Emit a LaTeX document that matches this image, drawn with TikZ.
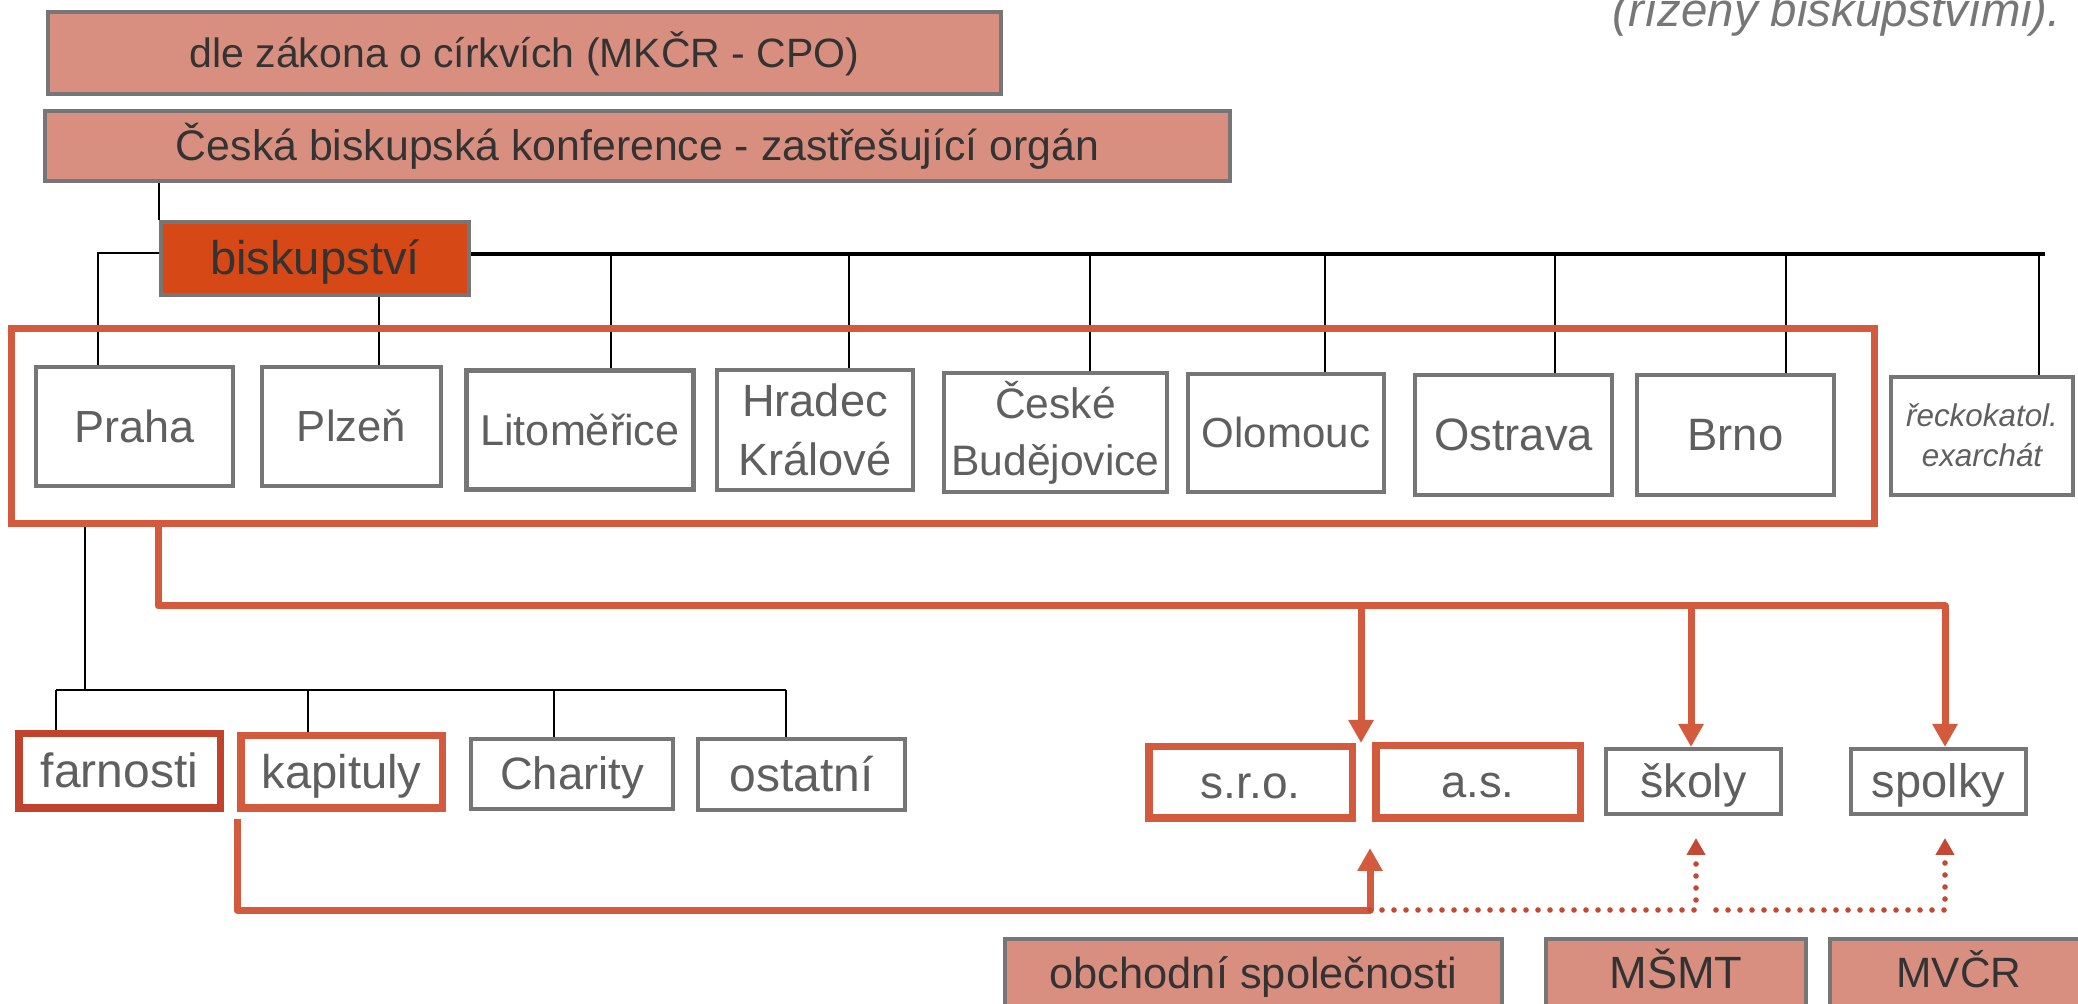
\documentclass[tikz,border=0pt]{standalone}
\usepackage{fontspec}
\setmainfont{Liberation Sans}
\usetikzlibrary{arrows.meta,backgrounds}
\definecolor{salmon}{HTML}{D98F7F}
\definecolor{biskc}{HTML}{D64815}
\definecolor{boxgray}{HTML}{767676}
\definecolor{redc}{HTML}{D35A3C}
\definecolor{farnc}{HTML}{C1432B}
\definecolor{dotc}{HTML}{C24A34}
\definecolor{txtgray}{HTML}{5F5F5F}
\definecolor{txtdark}{HTML}{333333}
\definecolor{notegray}{HTML}{777777}
\newcommand\st{\rule[-0.2em]{0pt}{1.1em}}
\newcommand\fsz[2]{\fontsize{#1pt}{#2pt}\selectfont}
\tikzset{
 gbox/.style={draw=boxgray, line width=2pt, fill=white, text=txtgray, inner sep=0pt, align=center},
 rbox/.style={draw=redc, line width=3.75pt, fill=white, text=txtgray, inner sep=0pt, align=center},
 sbox/.style={draw=boxgray, line width=2pt, fill=salmon, text=txtdark, inner sep=0pt, align=center},
 sz/.style 2 args={minimum width=#1pt, minimum height=#2pt},
 blk/.style={draw=black, line width=1pt},
 busln/.style={draw=black, line width=2pt},
 redln/.style={draw=redc, line width=3.5pt, line join=round},
 redarr/.style={redln, -{Triangle[width=12pt,length=11.5pt]}},
 dotarr/.style={draw=dotc, line width=2.8pt, line cap=round, dash pattern=on 0pt off 6pt, -{Triangle[width=9pt,length=8.5pt]}},
}
\begin{document}
\begin{tikzpicture}[x=0.5pt, y=-0.5pt]
\useasboundingbox (0,0) rectangle (2078,1004);

% top note (cut by the page edge, as in the reference)
\node[anchor=base east, text=notegray, font={\itshape\fsz{23.7}{28}}, inner sep=0pt] (note) at (2061,27) {(řízený biskupstvími).};

% salmon boxes
\node[sbox, sz={476.5}{41}, font={\fsz{20.5}{24}}] (top1) at (524.5,53) {\st dle zákona o církvích (MKČR - CPO)};
\node[sbox, sz={592.5}{35}, font={\fsz{21.4}{25}}] (top2) at (637.5,146) {\st Česká biskupská konference - zastřešující orgán};
\node[sbox, fill=biskc, sz={154}{36.5}, font={\fsz{23.6}{28}}] (bisk) at (315,258.5) {\st biskupství};

% dioceses
\node[gbox, sz={98.5}{59.5}, font={\fsz{22.5}{27}}] (praha) at (134.5,426.5) {\st Praha};
\node[gbox, sz={89.5}{59.5}, font={\fsz{21.8}{26}}] (plzen) at (351.5,426.5) {\st Plzeň};
\node[gbox, line width=2.5pt, sz={113.5}{59.5}, font={\fsz{21.6}{26}}] (lito) at (580,430) {\st Litoměřice};
\node[gbox, sz={98}{60}, font={\fsz{22.6}{29.5}}] (hradec) at (815,430) {\st Hradec\\Králové\st};
\node[gbox, sz={111.5}{59.5}, font={\fsz{21.3}{28.5}}] (cb) at (1055.5,432.5) {\st České\\Budějovice\st};
\node[gbox, sz={98}{59}, font={\fsz{21}{25}}] (olom) at (1286,433) {\st Olomouc};
\node[gbox, sz={98.5}{60}, font={\fsz{22.7}{27}}] (ostr) at (1513.5,435) {\st Ostrava};
\node[gbox, sz={98.5}{60}, font={\fsz{22.7}{27}}] (brno) at (1735.5,435) {\st Brno};
\node[gbox, sz={91}{59}, font={\itshape\fsz{15.7}{20}}] (reck) at (1982,436) {\st řeckokatol.\\exarchát\st};

% group frame
\node[draw=redc, line width=3.5pt, inner sep=0pt, sz={931.5}{97.5}] (grp) at (943,426) {};

% lower boxes
\node[rbox, draw=farnc, sz={100.75}{37.25}, font={\fsz{24}{28}}] (farn) at (119.5,771) {\st farnosti};
\node[rbox, sz={100.75}{36.25}, font={\fsz{23.6}{28}}] (kap) at (341.5,772) {\st kapituly};
\node[gbox, sz={101}{35}, font={\fsz{22.7}{27}}] (char) at (572,774) {\st Charity};
\node[gbox, sz={103.5}{35.5}, font={\fsz{24}{28}}] (ostat) at (801.5,774.5) {\st ostatní};
\node[rbox, sz={101.75}{35.75}, font={\fsz{23}{27}}] (sro) at (1250.5,782.5) {\st s.r.o.};
\node[rbox, sz={102.25}{36.25}, font={\fsz{22.7}{27}}] (as) at (1478,782) {\st a.s.};
\node[gbox, sz={87.5}{32.5}, font={\fsz{23.3}{27}}] (skoly) at (1693.5,781.5) {\st školy};
\node[gbox, sz={87.5}{32.5}, font={\fsz{23.5}{27}}] (spolky) at (1938.5,781.5) {\st spolky};
\node[sbox, sz={248.5}{34}, font={\fsz{21.7}{26}}] (obch) at (1253.5,973) {\st obchodní společnosti};
\node[sbox, sz={130}{34}, font={\fsz{22.6}{27}}] (msmt) at (1676,973) {\st MŠMT};
\node[sbox, sz={129}{34}, font={\fsz{21.2}{25}}] (mvcr) at (1959,973) {\st MVČR};

% coordinates
\coordinate (busE) at (2045,254);
\coordinate (b2) at (379,297);
\coordinate (b3) at (611,254);
\coordinate (b4) at (849,254);
\coordinate (b5) at (1090,254);
\coordinate (b6) at (1325,254);
\coordinate (b7) at (1555,254);
\coordinate (b8) at (1786,254);
\coordinate (b9) at (2039,254);
\coordinate (lv) at (85,690);
\coordinate (ll) at (56,690);
\coordinate (lr) at (786,690);
\coordinate (k1) at (308,690);
\coordinate (k2) at (554,690);
\coordinate (r0) at (158,606);
\coordinate (rA) at (1361,606);
\coordinate (rB) at (1691,606);
\coordinate (rE) at (1945,606);
\coordinate (jn) at (1370,910);
\coordinate (up1) at (1370,848);
\coordinate (d1) at (1696,838);
\coordinate (d2s) at (1716,910);
\coordinate (d2) at (1945,838);

% black tree lines (behind)
\begin{scope}[on background layer]
\draw[blk] (top2.south -| bisk.north west) -- (bisk.north west);
\draw[blk] ([yshift=2.5pt]bisk.west) -| ([xshift=-18.5pt]praha.north);
\draw[busln] (bisk.east |- busE) -- (busE);
\draw[blk] (bisk.south -| b2) -- (b2 |- plzen.north);
\draw[blk] (b3) -- (b3 |- lito.north);
\draw[blk] (b4) -- (b4 |- hradec.north);
\draw[blk] (b5) -- (b5 |- cb.north);
\draw[blk] (b6) -- (b6 |- olom.north);
\draw[blk] (b7) -- (b7 |- ostr.north);
\draw[blk, line width=1.4pt] (b8) -- (b8 |- brno.north);
\draw[blk] (b9) -- (b9 |- reck.north);
\draw[blk] (grp.south -| lv) -- (lv);
\draw[blk] (ll) -- (lr);
\draw[blk] (ll) -- (ll |- farn.north);
\draw[blk] (k1) -- (k1 |- kap.north);
\draw[blk] (k2) -- (k2 |- char.north);
\draw[blk] (lr) -- (lr |- ostat.north);
\end{scope}

% red connectors
\draw[redarr] (grp.south -| r0) |- (rE) -- (rE |- spolky.north);
\draw[redarr] (rA) -- (rA |- sro.north);
\draw[redarr] (rB) -- (rB |- skoly.north);
\draw[redarr] ([yshift=-3.5pt]kap.south west) |- (jn) -- (up1);

% dotted connectors
\draw[dotarr] (jn) -| (d1);
\draw[dotarr] (d2s) -| (d2);
\end{tikzpicture}
\end{document}
